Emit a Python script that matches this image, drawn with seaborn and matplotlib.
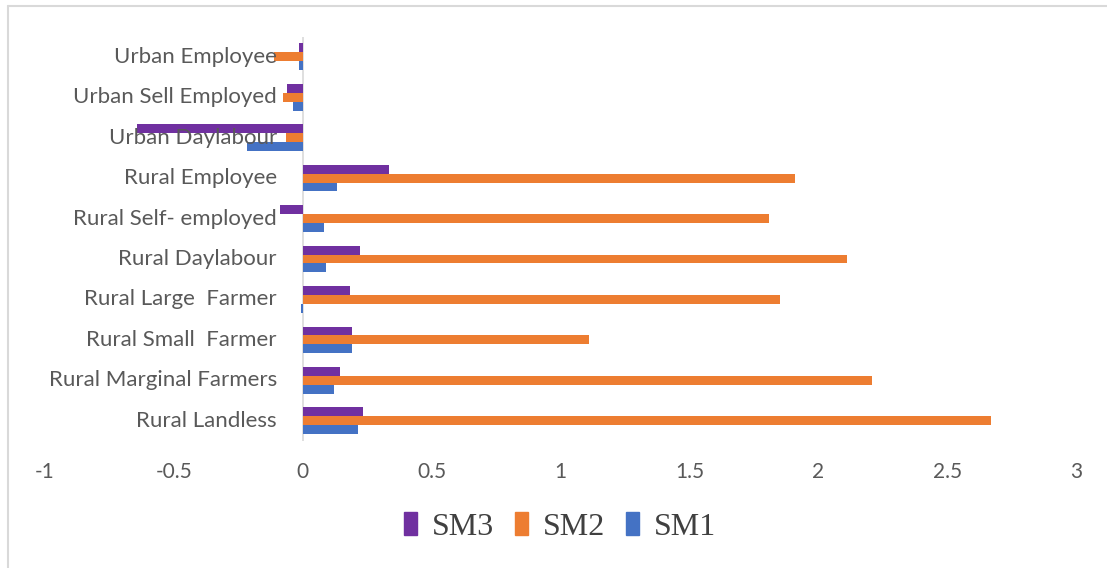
import matplotlib
matplotlib.use("Agg")
import matplotlib.pyplot as plt
from matplotlib.lines import Line2D
import seaborn as sns
import pandas as pd

# Household categories, listed top to bottom
categories = [
    "Urban Employee",
    "Urban Sell Employed",
    "Urban Daylabour",
    "Rural Employee",
    "Rural Self- employed",
    "Rural Daylabour",
    "Rural Large  Farmer",
    "Rural Small  Farmer",
    "Rural Marginal Farmers",
    "Rural Landless",
]

sm1 = [-0.014, -0.038, -0.217, 0.133, 0.083, 0.092, -0.007, 0.192, 0.123, 0.213]
sm2 = [-0.11, -0.075, -0.065, 1.91, 1.81, 2.11, 1.85, 1.11, 2.21, 2.67]
sm3 = [-0.015, -0.06, -0.645, 0.333, -0.087, 0.222, 0.182, 0.192, 0.143, 0.232]

series_names = ["SM3", "SM2", "SM1"]
x_ticks = [-1, -0.5, 0, 0.5, 1, 1.5, 2, 2.5, 3]
x_tick_labels = ["-1", "-0.5", "0", "0.5", "1", "1.5", "2", "2.5", "3"]

colors = {"SM3": "#7030A0", "SM2": "#ED7D31", "SM1": "#4472C4"}

df = pd.DataFrame({
    "category": categories * 3,
    "series": ["SM3"] * len(categories) + ["SM2"] * len(categories) + ["SM1"] * len(categories),
    "value": sm3 + sm2 + sm1,
})

sns.set_style("white")
plt.rcParams["font.family"] = ["Lato", "DejaVu Sans"]

W, H = 1107, 568
fig = plt.figure(figsize=(W / 100, H / 100), dpi=100)
ax = fig.add_axes([45 / W, 1 - 441 / H, (1076 - 45) / W, (441 - 36.5) / H])

sns.barplot(
    data=df, x="value", y="category", hue="series",
    order=categories, hue_order=series_names, palette=colors,
    orient="h", width=0.66, errorbar=None, ax=ax,
    edgecolor="none", saturation=1,
)

ax.set_xlim(-1, 3)
ax.set_ylim(len(categories) - 0.5, -0.5)
ax.set_xticks(x_ticks)
ax.set_xticklabels(x_tick_labels, fontsize=15, color="#595959")
ax.tick_params(axis="x", length=0, pad=15)
ax.set_yticks([])
ax.set_xlabel("")
ax.set_ylabel("")
for side in ["top", "right", "bottom", "left"]:
    ax.spines[side].set_visible(False)

# Vertical value axis at zero
ax.axvline(0, color="#D9D9D9", lw=1.2, zorder=0)

# Category labels sit just left of the zero axis
for i, name in enumerate(categories):
    ax.text(-0.1, i, name, ha="right", va="center", fontsize=16, color="#595959", zorder=1)

# Legend below the plot
handles = [plt.Rectangle((0, 0), 1, 1, color=colors[s]) for s in series_names]
fig.legend(
    handles, series_names, loc="center", bbox_to_anchor=(560 / W, 1 - 527 / H),
    ncol=3, frameon=False, handlelength=0.4, handleheight=0.75, handletextpad=0.47,
    columnspacing=0.65, prop={"family": "Liberation Serif", "size": 23},
    labelcolor="#404040",
)
if ax.get_legend() is not None:
    ax.get_legend().remove()

# Frame lines along the top and left of the figure
fig.add_artist(Line2D([7.5 / W, 1.0], [1 - 5.5 / H, 1 - 5.5 / H], color="#D9D9D9", lw=1.5))
fig.add_artist(Line2D([7.5 / W, 7.5 / W], [0, 1 - 5.5 / H], color="#D9D9D9", lw=1.5))

fig.savefig("out.png", dpi=100)
